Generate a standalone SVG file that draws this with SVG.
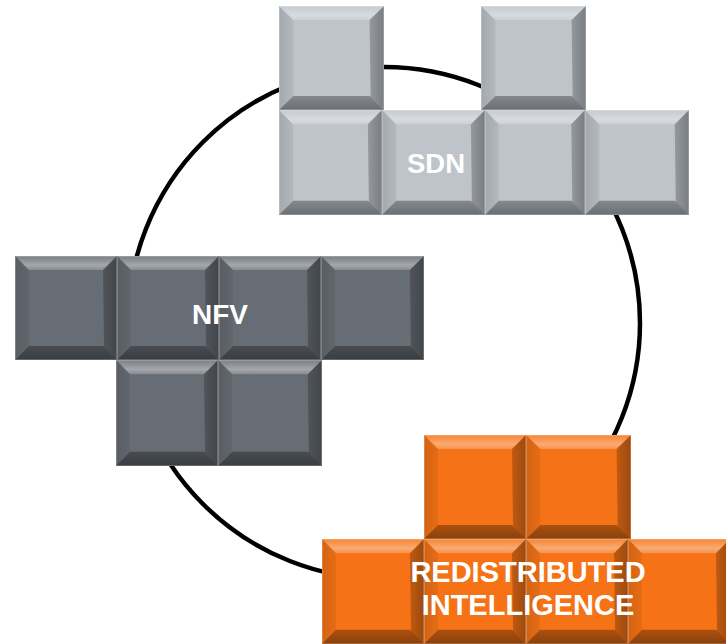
<svg xmlns="http://www.w3.org/2000/svg" xmlns:xlink="http://www.w3.org/1999/xlink" width="726" height="644" viewBox="0 0 726 644">
<style>
.lbl{font-family:"Liberation Sans",Arial,sans-serif;font-weight:bold;fill:#ffffff;text-anchor:middle}
.light{color:#BEC4CA}
.dark{color:#676D74}
.orange{color:#F57316}
</style>
<defs>
<linearGradient id="gt" x1="0" y1="0" x2="0" y2="1">
<stop offset="0" stop-color="#fff" stop-opacity="0.12"/>
<stop offset="0.65" stop-color="#fff" stop-opacity="0.4"/>
<stop offset="1" stop-color="#fff" stop-opacity="0.22"/>
</linearGradient>
<linearGradient id="gl" x1="0" y1="0" x2="1" y2="0">
<stop offset="0" stop-color="#000" stop-opacity="0.14"/>
<stop offset="1" stop-color="#000" stop-opacity="0.06"/>
</linearGradient>
<linearGradient id="gr" x1="0" y1="0" x2="1" y2="0">
<stop offset="0" stop-color="#000" stop-opacity="0.22"/>
<stop offset="1" stop-color="#000" stop-opacity="0.36"/>
</linearGradient>
<linearGradient id="gb" x1="0" y1="0" x2="0" y2="1">
<stop offset="0" stop-color="#000" stop-opacity="0.3"/>
<stop offset="1" stop-color="#000" stop-opacity="0.44"/>
</linearGradient>
<symbol id="key" viewBox="0 0 102 104" preserveAspectRatio="none">
<rect x="0" y="0" width="102" height="104" fill="currentColor"/>
<polygon points="0,0 102,0 88,14 14,14" fill="url(#gt)"/>
<polygon points="0,0 14,14 14,90 0,104" fill="url(#gl)"/>
<polygon points="102,0 102,104 89,91 88,14" fill="url(#gr)"/>
<polygon points="0,104 14,90 88,90 102,104" fill="url(#gb)"/>
<rect x="0.5" y="0.5" width="101" height="103" fill="none" stroke="#fff" stroke-opacity="0.22" stroke-width="1"/>
</symbol>
</defs>
<rect width="726" height="644" fill="#ffffff"/>
<g id="connectors">
<circle cx="384" cy="323" r="256" fill="none" stroke="#000" stroke-width="4.5"/>
</g>
<g id="sdn" class="light">
<use xlink:href="#key" x="279" y="6" width="105" height="104"/>
<use xlink:href="#key" x="481" y="6" width="105" height="104"/>
<use xlink:href="#key" x="279" y="110" width="103" height="105"/>
<use xlink:href="#key" x="382" y="110" width="103" height="105"/>
<use xlink:href="#key" x="485" y="110" width="100" height="105"/>
<use xlink:href="#key" x="585" y="110" width="104" height="105"/>
<text class="lbl" x="436" y="173" font-size="27.5">SDN</text>
</g>
<g id="nfv" class="dark">
<use xlink:href="#key" x="15" y="256" width="102" height="104"/>
<use xlink:href="#key" x="117" y="256" width="102" height="104"/>
<use xlink:href="#key" x="219" y="256" width="102" height="104"/>
<use xlink:href="#key" x="321" y="256" width="103" height="104"/>
<use xlink:href="#key" x="116" y="360" width="102" height="106"/>
<use xlink:href="#key" x="218" y="360" width="104" height="106"/>
<text class="lbl" x="220" y="324" font-size="28">NFV</text>
</g>
<g id="redistributed-intelligence" class="orange">
<use xlink:href="#key" x="424" y="435" width="102" height="104"/>
<use xlink:href="#key" x="526" y="435" width="105" height="104"/>
<use xlink:href="#key" x="322" y="539" width="102" height="105"/>
<use xlink:href="#key" x="424" y="539" width="102" height="105"/>
<use xlink:href="#key" x="526" y="539" width="102" height="105"/>
<use xlink:href="#key" x="628" y="539" width="102" height="105"/>
<text class="lbl" x="528" y="582" font-size="29">REDISTRIBUTED</text>
<text class="lbl" x="528" y="615" font-size="29">INTELLIGENCE</text>
</g>
</svg>
